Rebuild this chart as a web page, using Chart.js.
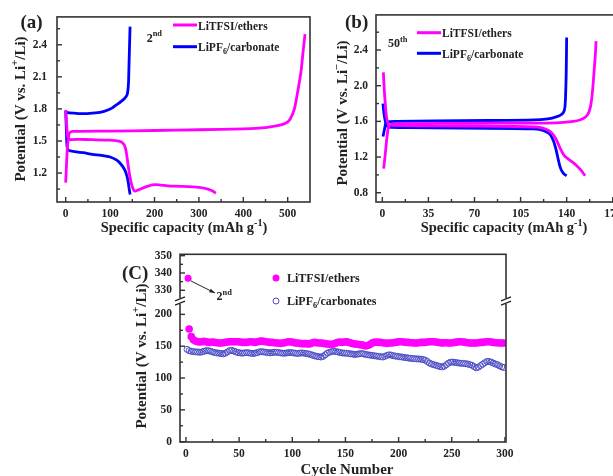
<!DOCTYPE html>
<html>
<head>
<meta charset="utf-8">
<script src="https://cdn.jsdelivr.net/npm/chart.js@4.4.0/dist/chart.umd.min.js"></script>
<style>
  html, body { margin: 0; padding: 0; background: #fff; width: 613px; height: 476px; overflow: hidden; position: relative; }
  canvas { position: absolute; left: 0; top: 0; }
</style>
</head>
<body>
<canvas id="chartA" width="613" height="476"></canvas>
<canvas id="chartB" width="660" height="476"></canvas>
<canvas id="chartC" width="613" height="476"></canvas>
<script>
// ---- (a) 2nd cycle, capacity (mAh/g) vs potential (V)
const capA_etherCharge = [0, 2, 4, 8, 15, 100, 200, 300, 400, 450, 480, 495, 505, 515, 522, 530, 535, 539];
const voltA_etherCharge = [1.11, 1.3, 1.45, 1.575, 1.59, 1.593, 1.598, 1.605, 1.614, 1.625, 1.645, 1.665, 1.70, 1.80, 1.95, 2.15, 2.35, 2.50];
const capA_etherDis = [0, 2, 4, 8, 30, 60, 100, 120, 130, 134, 137, 140, 144, 148, 152, 156, 165, 180, 195, 210, 230, 260, 300, 320, 332, 338];
const voltA_etherDis = [1.79, 1.66, 1.55, 1.515, 1.515, 1.512, 1.508, 1.498, 1.475, 1.44, 1.38, 1.29, 1.18, 1.10, 1.05, 1.03, 1.045, 1.07, 1.09, 1.09, 1.08, 1.075, 1.065, 1.05, 1.03, 1.01];
const capA_carbCharge = [0, 4, 20, 40, 60, 80, 95, 105, 115, 125, 133, 138, 140, 141.5, 142.5, 143.5, 144.5, 145];
const voltA_carbCharge = [1.78, 1.765, 1.76, 1.755, 1.76, 1.77, 1.79, 1.81, 1.84, 1.87, 1.90, 1.93, 1.97, 2.05, 2.2, 2.35, 2.5, 2.57];
const capA_carbDis = [0, 1.5, 3, 6, 20, 40, 60, 80, 100, 115, 125, 133, 138, 141, 143, 145];
const voltA_carbDis = [1.78, 1.6, 1.45, 1.415, 1.40, 1.39, 1.375, 1.365, 1.35, 1.32, 1.28, 1.23, 1.17, 1.11, 1.05, 1.0];
const capTicksA = [0, 100, 200, 300, 400, 500];
const capMinorA = [50, 150, 250, 350, 450];
const voltTicksA = [1.2, 1.5, 1.8, 2.1, 2.4];
const voltMinorA = [1.05, 1.35, 1.65, 1.95, 2.25, 2.55];

// ---- (b) 50th cycle
const capB_etherCharge = [1, 2, 3, 4, 5, 8, 30, 60, 90, 120, 135, 145, 150, 154, 156.5, 158, 159, 160, 161, 161.8, 162.3];
const voltB_etherCharge = [1.07, 1.2, 1.35, 1.48, 1.55, 1.57, 1.575, 1.578, 1.58, 1.58, 1.585, 1.60, 1.615, 1.645, 1.69, 1.76, 1.85, 2.0, 2.2, 2.35, 2.5];
const capB_etherDis = [0.8, 1.5, 2.5, 3.5, 5, 10, 30, 60, 90, 110, 118, 124, 128, 132, 135, 138, 142, 147, 151, 154];
const voltB_etherDis = [2.15, 1.95, 1.75, 1.62, 1.565, 1.555, 1.55, 1.548, 1.545, 1.54, 1.535, 1.515, 1.48, 1.40, 1.30, 1.22, 1.17, 1.11, 1.05, 0.99];
const capB_carbCharge = [0.5, 1.5, 2.5, 4, 10, 40, 80, 110, 120, 127, 132, 135, 137.5, 138.7, 139.2, 139.6, 139.8, 140];
const voltB_carbCharge = [1.43, 1.5, 1.57, 1.595, 1.60, 1.605, 1.61, 1.615, 1.62, 1.63, 1.65, 1.667, 1.70, 1.76, 1.9, 2.1, 2.3, 2.54];
const capB_carbDis = [0.5, 1, 2, 3, 5, 20, 60, 100, 115, 122, 127, 130, 132, 133.5, 135, 136.5, 138, 140];
const voltB_carbDis = [1.80, 1.72, 1.62, 1.56, 1.535, 1.53, 1.525, 1.52, 1.515, 1.50, 1.46, 1.38, 1.28, 1.18, 1.09, 1.04, 1.01, 0.99];
const capTicksB = [0, 35, 70, 105, 140, 175];
const capMinorB = [17.5, 52.5, 87.5, 122.5, 157.5];
const voltTicksB = [0.8, 1.2, 1.6, 2.0, 2.4];
const voltMinorB = [1.0, 1.4, 1.8, 2.2, 2.6];

// ---- (C) cycling
const etherFirstCycle = 2;
const etherFirstValue = 337;
// cycles 3, 5, 7 ... 299
const etherValues = [
  177, 165, 160, 158, 157, 156.5, 157, 157.5, 157, 156,
  156, 156.5, 156, 155.5, 155, 155, 155.5, 156, 156.5, 157,
  157, 157, 157, 157, 156.5, 156, 156, 156, 156.5, 157,
  156.5, 156, 157, 157.5, 158, 157.5, 157, 156.5, 156, 156,
  155.5, 155, 155, 154.5, 155, 155.5, 156.5, 157, 156.5, 156,
  155, 155, 154.5, 154, 154, 154, 153.5, 154, 155.5, 156,
  155.5, 155, 155, 154.5, 154, 153.5, 153, 153, 153.5, 155,
  156, 156.5, 156, 156.5, 157, 156, 155, 154, 153.5, 153,
  152.5, 152, 151.5, 150.5, 151, 152.5, 155, 156, 156.5, 156,
  156, 155.5, 155, 154.5, 155, 155, 155.5, 156, 156.5, 157,
  157, 156.5, 156, 156, 155.5, 155.5, 155, 155, 155.5, 156,
  156, 156, 156.5, 157, 157, 157, 156.5, 156, 155.5, 155,
  155.5, 155.5, 155, 155, 155.5, 156, 156.5, 157, 157, 156.5,
  156, 155.5, 155, 155, 155, 155, 155.5, 156, 156, 156.5,
  157, 157, 156.5, 156, 155.5, 155.5, 155, 155, 155
];
// cycles 1, 3, 5 ... 299
const carbValues = [
  145, 143, 142, 141.5, 141, 141, 140.5, 141, 142, 143,
  143, 142, 141, 140, 139.5, 139, 138.5, 138, 139, 141,
  143, 143.5, 142.5, 141, 140, 139.5, 139, 139.5, 140, 139.5,
  139, 138.5, 139, 140, 141, 141.5, 141, 140.5, 140, 139.5,
  140, 140.5, 140.5, 140, 139.5, 139, 139, 139.5, 140, 140,
  139.5, 139, 138.5, 139, 139.5, 139, 138.5, 138, 137, 136,
  135, 134, 133.5, 133, 134, 136.5, 139, 140.5, 141.5, 142,
  141.5, 141, 140, 139.5, 139, 139, 138.5, 138, 137.5, 137,
  137.5, 138, 138.5, 138, 137, 136.5, 136, 135.5, 135, 134.5,
  134, 133.5, 133, 134, 135.5, 136.5, 136, 135, 134.5, 134,
  133.5, 133, 132.5, 132, 131.5, 131, 130.5, 130.5, 130, 130,
  129.5, 129, 128, 126, 123.5, 122, 121, 120, 119, 118,
  117.5, 118.5, 121, 123.5, 125, 125, 124.5, 124, 123.5, 123,
  123, 122.5, 122, 121, 120, 118, 116, 117, 119.5, 121.5,
  124, 126, 126, 125, 123.5, 122, 121, 119, 117.5, 116.5
];
const cycleTicks = [0, 50, 100, 150, 200, 250, 300];
const cycleMinor = [25, 75, 125, 175, 225, 275];
const lowTicks = [0, 50, 100, 150, 200];
const lowMinor = [25, 75, 125, 175];
const highTicks = [330, 340, 350];
const highMinor = [325, 335, 345];

const PINK = '#ff00ff';
const BLUE = '#0000ff';
const RING = '#4a4ac4';
const INK = '#222';
const serif = '"Liberation Serif", "Times New Roman", serif';

Chart.defaults.font.family = serif;
Chart.defaults.font.weight = 'bold';
Chart.defaults.font.size = 11.5;
Chart.defaults.color = INK;
Chart.defaults.animation = false;
Chart.defaults.plugins.legend.display = false;
Chart.defaults.plugins.tooltip.enabled = false;

function pts(xs, ys) {
  return xs.map((x, i) => ({x: x, y: ys[i]}));
}

function lineSet(label, xs, ys, color) {
  return {
    label: label,
    data: pts(xs, ys),
    showLine: true,
    borderColor: color,
    borderWidth: 2.8,
    pointRadius: 0,
    tension: 0.2,
    fill: false
  };
}

function linAxis(min, max, majors, fmt, fit, pad) {
  return {
    type: 'linear',
    min: min,
    max: max,
    grid: { display: false, drawTicks: false },
    border: { display: false },
    ticks: { padding: pad, autoSkip: false, maxRotation: 0, callback: fmt },
    afterBuildTicks: s => { s.ticks = majors.map(v => ({value: v})); },
    afterFit: fit
  };
}

function drawRich(ctx, parts, x, y, size, align) {
  let w = 0;
  parts.forEach(p => {
    ctx.font = 'bold ' + ((p.sup || p.sub) ? size * 0.7 : size) + 'px ' + serif;
    w += ctx.measureText(p.t).width;
  });
  let cx = align === 'center' ? x - w / 2 : x;
  ctx.fillStyle = INK;
  ctx.textAlign = 'left';
  ctx.textBaseline = 'alphabetic';
  parts.forEach(p => {
    ctx.font = 'bold ' + ((p.sup || p.sub) ? size * 0.7 : size) + 'px ' + serif;
    const dy = p.sup ? -size * 0.42 : (p.sub ? size * 0.28 : 0);
    ctx.fillText(p.t, cx, y + dy);
    cx += ctx.measureText(p.t).width;
  });
}

function drawRotated(ctx, parts, x, y, size) {
  ctx.save();
  ctx.translate(x, y);
  ctx.rotate(-Math.PI / 2);
  drawRich(ctx, parts, 0, 0, size, 'center');
  ctx.restore();
}

function tickMarks(ctx, scale, area, values, len) {
  values.forEach(v => {
    if (v < scale.min || v > scale.max) return;
    const p = scale.getPixelForValue(v);
    ctx.beginPath();
    if (scale.isHorizontal()) {
      ctx.moveTo(p, area.bottom);
      ctx.lineTo(p, area.bottom - len);
    } else {
      ctx.moveTo(area.left, p);
      ctx.lineTo(area.left + len, p);
    }
    ctx.stroke();
  });
}

function frame(ctx, area) {
  ctx.strokeStyle = '#333';
  ctx.lineWidth = 1.6;
  ctx.strokeRect(area.left, area.top, area.right - area.left, area.bottom - area.top);
}

function legendLine(ctx, x1, x2, y, color) {
  ctx.strokeStyle = color;
  ctx.lineWidth = 3;
  ctx.beginPath();
  ctx.moveTo(x1, y);
  ctx.lineTo(x2, y);
  ctx.stroke();
}

const yTitleA = [{t: 'Potential (V vs. Li'}, {t: '+', sup: true}, {t: '/Li)'}];
const yTitleB = [{t: 'Potential (V vs. Li'}, {t: '\u2212', sup: true}, {t: '/Li)'}];
const xTitle = [{t: 'Specific capacity (mAh g'}, {t: '-1', sup: true}, {t: ')'}];

// ---------- (a)
new Chart(document.getElementById('chartA'), {
  type: 'scatter',
  data: {
    datasets: [
      lineSet('LiTFSI/ethers', capA_etherCharge, voltA_etherCharge, PINK),
      lineSet('LiTFSI/ethers', capA_etherDis, voltA_etherDis, PINK),
      lineSet('LiPF6/carbonate', capA_carbDis, voltA_carbDis, BLUE),
      lineSet('LiPF6/carbonate', capA_carbCharge, voltA_carbCharge, BLUE)
    ]
  },
  options: {
    responsive: false,
    layout: { padding: { left: 0, top: 14, right: 303, bottom: 244 } },
    scales: {
      x: linAxis(-19.6, 550.2, capTicksA, v => v, s => { s.height = 30; }, 5),
      y: linAxis(0.929, 2.661, voltTicksA, v => v.toFixed(1), s => { s.width = 57; }, 10)
    }
  },
  plugins: [{
    id: 'decorA',
    afterDraw(chart) {
      const ctx = chart.ctx, area = chart.chartArea;
      ctx.save();
      frame(ctx, area);
      ctx.lineWidth = 1.4;
      tickMarks(ctx, chart.scales.x, area, capTicksA, 5);
      tickMarks(ctx, chart.scales.x, area, capMinorA, 3);
      tickMarks(ctx, chart.scales.y, area, voltTicksA, 5);
      tickMarks(ctx, chart.scales.y, area, voltMinorA, 3);
      drawRich(ctx, [{t: '(a)'}], 20.5, 28, 19);
      drawRotated(ctx, yTitleA, 24.5, 109, 15);
      drawRich(ctx, xTitle, 184, 232, 14.5, 'center');
      drawRich(ctx, [{t: '2'}, {t: 'nd', sup: true}], 146.7, 41.5, 12);
      legendLine(ctx, 173, 197, 25, PINK);
      drawRich(ctx, [{t: 'LiTFSI/ethers'}], 198, 29.5, 11.5);
      legendLine(ctx, 173, 197, 46.7, BLUE);
      drawRich(ctx, [{t: 'LiPF'}, {t: '6', sub: true}, {t: '/carbonate'}], 198, 51.2, 11.5);
      ctx.restore();
    }
  }]
});

// ---------- (b)
new Chart(document.getElementById('chartB'), {
  type: 'scatter',
  data: {
    datasets: [
      lineSet('LiTFSI/ethers', capB_etherCharge, voltB_etherCharge, PINK),
      lineSet('LiTFSI/ethers', capB_etherDis, voltB_etherDis, PINK),
      lineSet('LiPF6/carbonate', capB_carbCharge, voltB_carbCharge, BLUE),
      lineSet('LiPF6/carbonate', capB_carbDis, voltB_carbDis, BLUE)
    ]
  },
  options: {
    responsive: false,
    layout: { padding: { left: 300, top: 14, right: 40.4, bottom: 244 } },
    scales: {
      x: linAxis(-4.8, 180.2, capTicksB, v => v, s => { s.height = 30; }, 5),
      y: linAxis(0.696, 2.794, voltTicksB, v => v.toFixed(1), s => { s.width = 76; }, 8)
    }
  },
  plugins: [{
    id: 'decorB',
    afterDraw(chart) {
      const ctx = chart.ctx, area = chart.chartArea;
      ctx.save();
      frame(ctx, area);
      ctx.lineWidth = 1.4;
      tickMarks(ctx, chart.scales.x, area, capTicksB, 5);
      tickMarks(ctx, chart.scales.x, area, capMinorB, 3);
      tickMarks(ctx, chart.scales.y, area, voltTicksB, 5);
      tickMarks(ctx, chart.scales.y, area, voltMinorB, 3);
      drawRich(ctx, [{t: '(b)'}], 345, 28, 19);
      drawRotated(ctx, yTitleB, 346.5, 113, 15);
      drawRich(ctx, xTitle, 504, 232, 14.5, 'center');
      drawRich(ctx, [{t: '50'}, {t: 'th', sup: true}], 388, 47, 12);
      legendLine(ctx, 417, 441, 32.7, PINK);
      drawRich(ctx, [{t: 'LiTFSI/ethers'}], 442, 37.2, 11.5);
      legendLine(ctx, 417, 441, 53.3, BLUE);
      drawRich(ctx, [{t: 'LiPF'}, {t: '6', sub: true}, {t: '/carbonate'}], 442, 57.8, 11.5);
      ctx.restore();
    }
  }]
});

// ---------- (C)
const etherPoints = etherValues.map((v, i) => ({x: 3 + 2 * i, y: v}));
const carbPoints = carbValues.map((v, i) => ({x: 1 + 2 * i, y: v}));

function breakMark(ctx, x, y) {
  ctx.fillStyle = '#fff';
  ctx.fillRect(x - 3, y - 3, 6, 6);
  ctx.strokeStyle = '#222';
  ctx.lineWidth = 1.3;
  [-2.2, 2.2].forEach(d => {
    ctx.beginPath();
    ctx.moveTo(x - 5, y + d + 2);
    ctx.lineTo(x + 5, y + d - 2);
    ctx.stroke();
  });
}

new Chart(document.getElementById('chartC'), {
  type: 'scatter',
  data: {
    datasets: [
      {
        label: 'LiPF6/carbonates',
        data: carbPoints,
        yAxisID: 'yLow',
        pointRadius: 3,
        pointBackgroundColor: 'rgba(0,0,0,0)',
        pointBorderColor: RING,
        pointBorderWidth: 1
      },
      {
        label: 'LiTFSI/ethers',
        data: etherPoints,
        yAxisID: 'yLow',
        pointRadius: 3.8,
        pointBackgroundColor: PINK,
        pointBorderWidth: 0
      },
      {
        label: 'LiTFSI/ethers',
        data: [{x: etherFirstCycle, y: etherFirstValue}],
        yAxisID: 'yHigh',
        pointRadius: 3.5,
        pointBackgroundColor: PINK,
        pointBorderWidth: 0
      }
    ]
  },
  options: {
    responsive: false,
    layout: { padding: { left: 100, top: 254.3, right: 107, bottom: 0 } },
    scales: {
      x: linAxis(-5.6, 301, cycleTicks, v => v, s => { s.height = 34; }, 5),
      yLow: Object.assign(linAxis(-0.5, 221, lowTicks, v => v, s => { s.width = 80; }, 8),
        { position: 'left', stack: 'cyc', stackWeight: 141 }),
      yHigh: Object.assign(linAxis(323.8, 350.8, highTicks, v => v, s => { s.width = 80; }, 8),
        { position: 'left', stack: 'cyc', stackWeight: 46.7 })
    }
  },
  plugins: [{
    id: 'decorC',
    afterDraw(chart) {
      const ctx = chart.ctx, area = chart.chartArea;
      const low = chart.scales.yLow, high = chart.scales.yHigh;
      ctx.save();
      frame(ctx, area);
      ctx.lineWidth = 1.4;
      tickMarks(ctx, chart.scales.x, area, cycleTicks, 5);
      tickMarks(ctx, chart.scales.x, area, cycleMinor, 3);
      tickMarks(ctx, low, area, lowTicks, 5);
      tickMarks(ctx, low, area, lowMinor, 3);
      tickMarks(ctx, high, area, highTicks, 5);
      tickMarks(ctx, high, area, highMinor, 3);
      const by = Math.min(low.top, high.top) === high.top ? high.bottom : low.bottom;
      breakMark(ctx, area.left, by);
      breakMark(ctx, area.right, by);

      drawRich(ctx, [{t: '(C)'}], 122, 279, 19);
      drawRotated(ctx, yTitleA, 145.5, 356, 15);
      drawRich(ctx, [{t: 'Cycle Number'}], 347, 474, 15, 'center');

      // legend
      ctx.fillStyle = PINK;
      ctx.beginPath();
      ctx.arc(276, 278, 3.5, 0, Math.PI * 2);
      ctx.fill();
      drawRich(ctx, [{t: 'LiTFSI/ethers'}], 287, 282, 12);
      ctx.strokeStyle = RING;
      ctx.lineWidth = 1;
      ctx.beginPath();
      ctx.arc(276, 301, 3, 0, Math.PI * 2);
      ctx.stroke();
      drawRich(ctx, [{t: 'LiPF'}, {t: '6', sub: true}, {t: '/carbonates'}], 287, 305, 12);

      // 2nd cycle annotation
      const ax1 = 191, ay1 = 281, ax2 = 215, ay2 = 293;
      ctx.strokeStyle = '#222';
      ctx.fillStyle = '#222';
      ctx.lineWidth = 1;
      ctx.beginPath();
      ctx.moveTo(ax1, ay1);
      ctx.lineTo(ax2, ay2);
      ctx.stroke();
      const ang = Math.atan2(ay2 - ay1, ax2 - ax1);
      ctx.beginPath();
      ctx.moveTo(ax2, ay2);
      ctx.lineTo(ax2 - 6 * Math.cos(ang - 0.35), ay2 - 6 * Math.sin(ang - 0.35));
      ctx.lineTo(ax2 - 6 * Math.cos(ang + 0.35), ay2 - 6 * Math.sin(ang + 0.35));
      ctx.closePath();
      ctx.fill();
      drawRich(ctx, [{t: '2'}, {t: 'nd', sup: true}], 216.5, 300, 12);
      ctx.restore();
    }
  }]
});
</script>
</body>
</html>
